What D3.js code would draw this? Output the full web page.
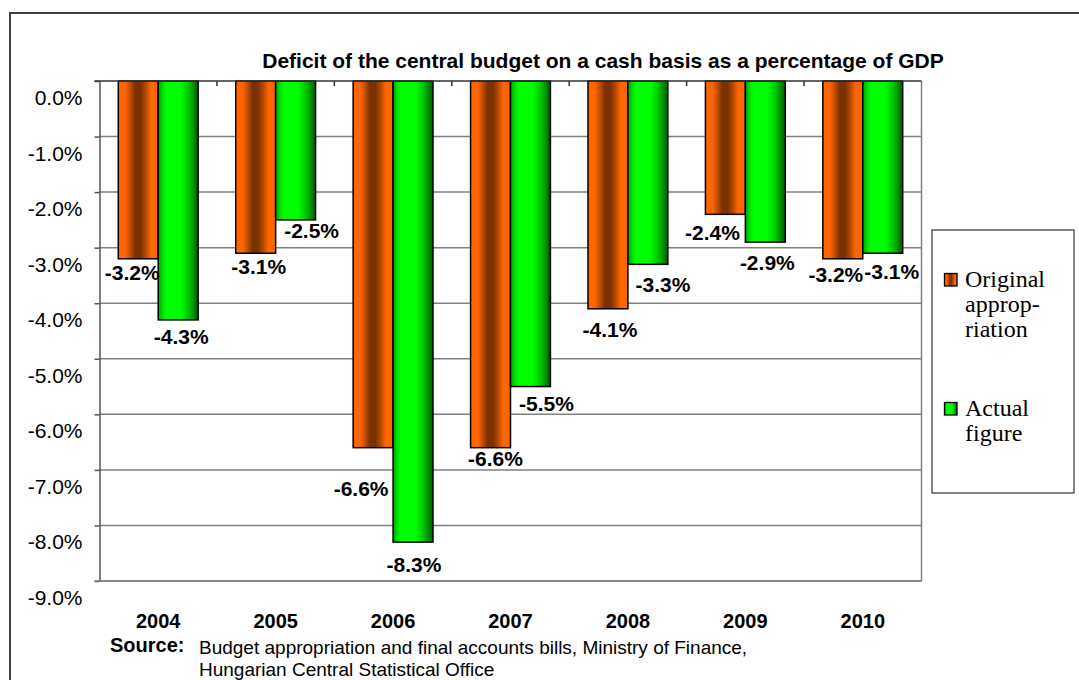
<!DOCTYPE html>
<html>
<head>
<meta charset="utf-8">
<script src="https://cdn.jsdelivr.net/npm/d3@7"></script>
<style>
  html, body { margin: 0; padding: 0; background: #fff; }
  svg { display: block; }
</style>
</head>
<body>
<svg id="chart" width="1079" height="680"></svg>
<script>
// ---- data ----
const years = ["2004", "2005", "2006", "2007", "2008", "2009", "2010"];
const originalAppropriation = [-3.2, -3.1, -6.6, -6.6, -4.1, -2.4, -3.2];
const actualFigure = [-4.3, -2.5, -8.3, -5.5, -3.3, -2.9, -3.1];
const yTicks = [0, -1, -2, -3, -4, -5, -6, -7, -8, -9];
const legendOriginal = ["Original", "approp-", "riation"];
const legendActual = ["Actual", "figure"];
const titleText = "Deficit of the central budget on a cash basis as a percentage of GDP";
const sourceLabel = "Source:";
const sourceLines = [
  "Budget appropriation and final accounts bills, Ministry of Finance,",
  "Hungarian Central Statistical Office"
];

// value-label offsets [dx, dy] from the end of each bar (layout only)
const originalLabelNudge = [[-6, 14], [3, 13], [-12, 41], [5, 11], [2, 21], [-13, 18], [-7, 16]];
const actualLabelNudge = [[3, 17], [16, 11], [1, 22], [16, 16.5], [15, 20.5], [2, 20], [9, 18]];

// ---- layout ----
const SANS = "'Liberation Sans', Arial, sans-serif";
const SERIF = "'Liberation Serif', 'Times New Roman', serif";
const plot = { left: 99.5, right: 921.5, top: 81, bottom: 581 };

const svg = d3.select("#chart");
const minusLocale = d3.formatLocale({ decimal: ".", thousands: ",", grouping: [3], currency: ["", ""], minus: "-" });
const pct = v => minusLocale.format(".1f")(v) + "%";

const x = d3.scaleBand().domain(years).range([plot.left, plot.right]).paddingInner(0.32).paddingOuter(0.16);
const y = d3.scaleLinear().domain([0, -9]).range([plot.top, plot.bottom]);
const barW = x.bandwidth() / 2;

// gradients for the shaded bars
const defs = svg.append("defs");
function gradient(id, stops) {
  const g = defs.append("linearGradient").attr("id", id)
    .attr("x1", "0").attr("y1", "0").attr("x2", "1").attr("y2", "0");
  stops.forEach(([o, c]) => g.append("stop").attr("offset", o).attr("stop-color", c));
}
gradient("gOrange", [[0, "#FF6600"], [0.17, "#FF6600"], [0.3, "#C24E00"], [0.42, "#7C3200"],
  [0.56, "#7C3200"], [0.68, "#B04700"], [0.82, "#FF6600"], [1, "#FF6600"]]);
gradient("gGreen", [[0, "#00A400"], [0.12, "#00E400"], [0.2, "#00FF00"], [0.55, "#00FF00"],
  [0.75, "#00C800"], [0.9, "#008A00"], [1, "#005800"]]);

// outer frame (top and left edges)
svg.append("path")
  .attr("d", "M10,680 V13 H1079")
  .attr("fill", "none").attr("stroke", "#3f3f3f").attr("stroke-width", 2);

// title
svg.append("text")
  .attr("x", 603).attr("y", 68)
  .attr("text-anchor", "middle")
  .attr("font-family", SANS).attr("font-weight", "bold").attr("font-size", 21)
  .text(titleText);

// horizontal gridlines
svg.append("g").selectAll("line").data(yTicks.slice(1)).join("line")
  .attr("x1", plot.left).attr("x2", plot.right)
  .attr("y1", d => y(d)).attr("y2", d => y(d))
  .attr("stroke", "#808080").attr("stroke-width", 1.5);

// plot-area right edge
svg.append("line")
  .attr("x1", plot.right).attr("x2", plot.right).attr("y1", plot.top).attr("y2", plot.bottom)
  .attr("stroke", "#808080").attr("stroke-width", 1.5);

// bars
const series = [
  { values: originalAppropriation, fill: "url(#gOrange)", nudge: originalLabelNudge, offset: 0 },
  { values: actualFigure, fill: "url(#gGreen)", nudge: actualLabelNudge, offset: 1 }
];
series.forEach(s => {
  svg.append("g").selectAll("rect").data(years).join("rect")
    .attr("x", (d) => x(d) + s.offset * barW)
    .attr("y", y(0))
    .attr("width", barW)
    .attr("height", (d, i) => y(s.values[i]) - y(0))
    .attr("fill", s.fill)
    .attr("stroke", "#000").attr("stroke-width", 1.5);
});

// y axis
const yAxis = svg.append("g")
  .attr("transform", `translate(${plot.left},0)`)
  .call(d3.axisLeft(y).tickValues(yTicks).tickFormat(pct).tickSize(5).tickPadding(12).tickSizeOuter(0));
yAxis.select(".domain").attr("stroke", "#555").attr("stroke-width", 1.5);
yAxis.selectAll(".tick line").attr("stroke", "#555").attr("stroke-width", 1.5);
yAxis.selectAll(".tick text")
  .attr("y", 16).attr("dy", "0.36em")
  .attr("font-family", SANS).attr("font-size", 21).attr("fill", "#000");

// category axis along zero line, with boundary ticks pointing into the plot
svg.append("line")
  .attr("x1", plot.left - 5).attr("x2", plot.right).attr("y1", y(0)).attr("y2", y(0))
  .attr("stroke", "#333").attr("stroke-width", 1.5);
const boundaries = d3.range(1, years.length).map(i => plot.left + i * x.step());
svg.append("g").selectAll("line").data(boundaries).join("line")
  .attr("x1", d => d).attr("x2", d => d).attr("y1", y(0)).attr("y2", y(0) + 5)
  .attr("stroke", "#333").attr("stroke-width", 1.5);

// bottom edge of plot area
svg.append("line")
  .attr("x1", plot.left - 5).attr("x2", plot.right).attr("y1", plot.bottom).attr("y2", plot.bottom)
  .attr("stroke", "#808080").attr("stroke-width", 1.5);

// category labels below the plot
const xAxis = svg.append("g")
  .attr("transform", `translate(0,${plot.bottom})`)
  .call(d3.axisBottom(x).tickSize(0).tickPadding(0));
xAxis.select(".domain").remove();
xAxis.selectAll(".tick text")
  .attr("y", 47).attr("dy", 0)
  .attr("font-family", SANS).attr("font-weight", "bold").attr("font-size", 20).attr("fill", "#000");

// value labels
series.forEach(s => {
  svg.append("g").selectAll("text").data(years).join("text")
    .attr("x", (d, i) => x(d) + s.offset * barW + barW / 2 + s.nudge[i][0])
    .attr("y", (d, i) => y(s.values[i]) + s.nudge[i][1] + 7.5)
    .attr("text-anchor", "middle")
    .attr("font-family", SANS).attr("font-weight", "bold").attr("font-size", 21)
    .text((d, i) => pct(s.values[i]));
});

// legend
const legend = svg.append("g");
legend.append("rect")
  .attr("x", 932).attr("y", 230).attr("width", 142).attr("height", 263)
  .attr("fill", "#fff").attr("stroke", "#333").attr("stroke-width", 1.2);
const legendItems = [
  { lines: legendOriginal, fill: "url(#gOrange)", y0: 287 },
  { lines: legendActual, fill: "url(#gGreen)", y0: 416 }
];
legendItems.forEach(item => {
  legend.append("rect")
    .attr("x", 944.5).attr("y", item.y0 - 13.5).attr("width", 12.5).attr("height", 12.5)
    .attr("fill", item.fill).attr("stroke", "#000").attr("stroke-width", 1.3);
  const t = legend.append("text")
    .attr("font-family", SERIF).attr("font-size", 24).attr("fill", "#000");
  item.lines.forEach((ln, i) => {
    t.append("tspan").attr("x", 965).attr("y", item.y0 + i * 25).text(ln);
  });
});

// source note
svg.append("text")
  .attr("x", 110).attr("y", 651.5)
  .attr("font-family", SANS).attr("font-weight", "bold").attr("font-size", 20)
  .text(sourceLabel);
const src = svg.append("text")
  .attr("font-family", SANS).attr("font-size", 19);
sourceLines.forEach((ln, i) => {
  src.append("tspan").attr("x", 199).attr("y", 654.3 + i * 21.5).text(ln);
});
</script>
</body>
</html>
